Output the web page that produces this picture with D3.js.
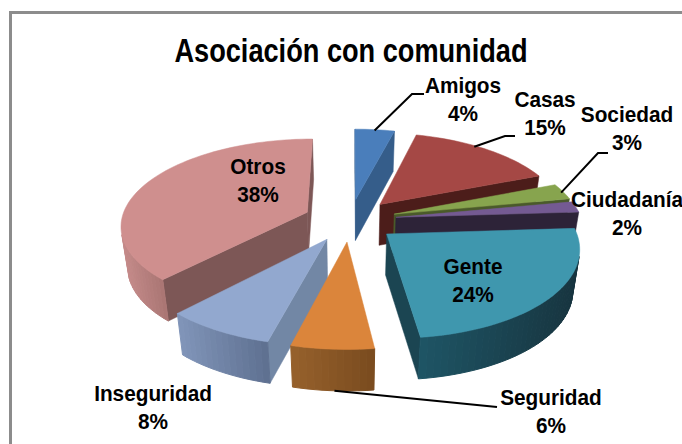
<!DOCTYPE html>
<html><head><meta charset="utf-8">
<script src="https://cdn.jsdelivr.net/npm/d3@7"></script>
<style>html,body{margin:0;padding:0;background:#fff;overflow:hidden}svg{display:block}</style>
</head><body><svg id="c" width="682" height="444"></svg>
<script>
const title = "Asociación con comunidad";
const categories = ["Amigos","Casas","Sociedad","Ciudadanía","Gente","Seguridad","Inseguridad","Otros"];
const values = [4,15,3,2,24,6,8,38];

const topColors  = ["#4a7ebb","#a54845","#87a44e","#745a92","#3f97ae","#db853b","#92a8cf","#cf8f8e"];
const radialColors = ["#355d8a","#4c1d1a","#4a5a2a","#2d2338","#1b4552","#7a4a1e","#7287a5","#7d5756"];
const wallLeft  = ["#355d8a","#5a2422","#4a5a2a","#2d2338","#1e5464","#95602b","#8094b8","#c48a89"];
const wallRight = ["#355d8a","#4c1d1a","#4a5a2a","#2d2338","#17343f","#784a1e","#5c6e8e","#a87472"];
const labelAnchors = [[463,93],[545,107],[627,122],[627,207],[473,274],[551,405],[153,401],[258,174]];
const leaders = [
  {i:0,a:0.50,pts:[[412,94],[424,94]]},
  {i:1,a:0.42,pts:[[505,136],[515,136]]},
  {i:2,a:0.55,pts:[[598,153],[608,153]]},
  {i:5,a:0.48,pts:[[497,407]]}
];

const cx=350, cy=220, fx=186, fy=85.5, k=0.14, depth=41, zShrink=0.03, explode=0.25;

function project(x,y,z){
  const w=1+k*y;
  const s=1-zShrink*z;
  return [cx+(x*fx/w)*s, cy-(y*fy/w)*s+z*depth/Math.pow(w,0.53)];
}
const svg=d3.select("#c");
const pie=d3.pie().sort(null).value(d=>d);
const arcs=pie(values).map((d,i)=>({...d,i}));
const line=d3.line();

function area(p){let s=0;for(let i=0;i<p.length;i++){const a=p[i],b=p[(i+1)%p.length];s+=a[0]*b[1]-b[0]*a[1];}return s/2;}

const order=arcs.slice().sort((a,b)=>Math.cos((b.startAngle+b.endAngle)/2)-Math.cos((a.startAngle+a.endAngle)/2));
function slicePoint(d,ang,r,z){
  const m=(d.startAngle+d.endAngle)/2;
  return project(explode*Math.sin(m)+r*Math.sin(ang),explode*Math.cos(m)+r*Math.cos(ang),z);
}
order.forEach(d=>{
  const g=svg.append("g").attr("data-cat",categories[d.i]);
  const n=Math.max(4,Math.ceil((d.endAngle-d.startAngle)/0.035));
  const angs=d3.range(n+1).map(j=>d.startAngle+(d.endAngle-d.startAngle)*j/n);
  const ci=d3.interpolateRgb(wallLeft[d.i],wallRight[d.i]);
  [[d.startAngle,true],[d.endAngle,false]].forEach(([ang,st])=>{
    const q=[slicePoint(d,0,0,0),slicePoint(d,ang,1,0),slicePoint(d,ang,1,1),slicePoint(d,0,0,1)];
    const front=st?area(q)<0:area(q)>0;
    if(front) g.append("path").attr("d",line(q)+"Z").attr("fill",radialColors[d.i]).attr("stroke",radialColors[d.i]).attr("stroke-width",0.5);
  });
  const segs=[];
  for(let j=0;j<n;j++){
    const q=[slicePoint(d,angs[j],1,0),slicePoint(d,angs[j+1],1,0),slicePoint(d,angs[j+1],1,1),slicePoint(d,angs[j],1,1)];
    if(area(q)<0) segs.push(q);
  }
  const xsAll=segs.flatMap(q=>[q[0][0],q[1][0]]);
  const xMin=d3.min(xsAll), xMax=d3.max(xsAll);
  segs.forEach(q=>{
    const c=ci((Math.min(q[0][0],q[1][0])-xMin)/Math.max(1,xMax-xMin));
    g.append("path").attr("d",line(q)+"Z").attr("fill",c).attr("stroke",c).attr("stroke-width",1);
  });
  const top=[slicePoint(d,0,0,0),...angs.map(a=>slicePoint(d,a,1,0))];
  g.append("path").attr("d",line(top)+"Z").attr("fill",topColors[d.i]).attr("stroke",topColors[d.i]).attr("stroke-width",0.5);
});

leaders.forEach(l=>{
  const d=arcs[l.i];
  const ang=d.startAngle+(d.endAngle-d.startAngle)*l.a;
  const z=l.i===5?1:0;
  const p=[slicePoint(d,ang,l.i===5?1:0.985,z),...l.pts];
  svg.append("path").attr("d",line(p)).attr("fill","none").attr("stroke","#000").attr("stroke-width",2);
});

svg.append("path").attr("d","M10.5,444V12.5H682").attr("fill","none").attr("stroke","#8c8c8c").attr("stroke-width",3);

const font='"Liberation Sans",Arial,sans-serif';
svg.append("text").attr("transform","translate(351,62) scale(0.836,1)").attr("text-anchor","middle")
  .attr("font-family",font).attr("font-weight",700).attr("font-size",32.5).attr("fill","#000").text(title);
arcs.forEach(d=>{
  const [x,y]=labelAnchors[d.i];
  const t=svg.append("text").attr("transform",`translate(${x},${y}) scale(0.945,1)`).attr("text-anchor","middle")
    .attr("font-family",font).attr("font-weight",700).attr("font-size",22).attr("fill","#000");
  t.append("tspan").attr("x",0).attr("dy",0).text(categories[d.i]);
  t.append("tspan").attr("x",0).attr("dy",28).text(values[d.i]+"%");
});
</script></body></html>
